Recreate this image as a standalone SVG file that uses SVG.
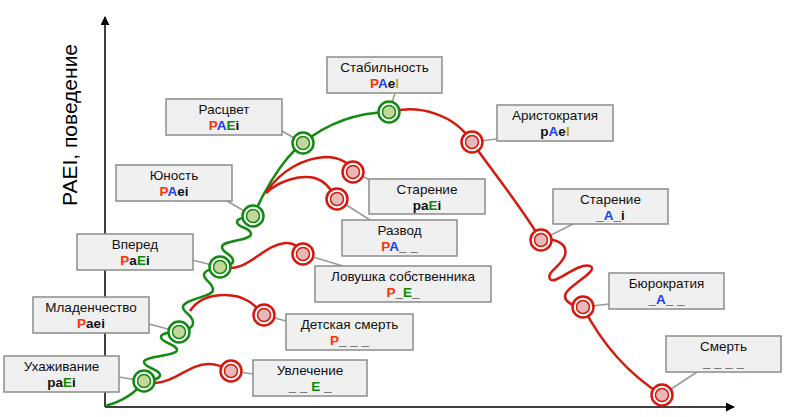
<svg xmlns="http://www.w3.org/2000/svg" width="786" height="417" viewBox="0 0 786 417">
<style>
.box{fill:#f0f0f0;stroke:#8c8c8c;stroke-width:1.5}
.nm{font-family:"Liberation Sans",Arial,sans-serif;font-size:13.5px;fill:#111;text-anchor:middle}
.cd{font-family:"Liberation Sans",Arial,sans-serif;font-size:13.5px;font-weight:bold;fill:#111;text-anchor:middle}
.P{fill:#ff3300}.A{fill:#1a3cff}.E{fill:#0a8a0a}.I{fill:#c8a020}
.lead{stroke:#999;stroke-width:1.5;fill:none}
.g{fill:none;stroke:#138a13;stroke-width:2.5}
.r{fill:none;stroke:#d4190e;stroke-width:2.5}
.go{fill:#fff;stroke:#138a13;stroke-width:2.5}
.gi{fill:#c4d79b;stroke:#138a13;stroke-width:1.5}
.ro{fill:#fff;stroke:#d4190e;stroke-width:2.5}
.ri{fill:#e6b8b7;stroke:#d4190e;stroke-width:1.5}
.ax{stroke:#000;stroke-width:1.5;fill:none}
</style>
<defs>
<marker id="ah" viewBox="0 0 10 10" refX="9" refY="5" markerWidth="6" markerHeight="6" orient="auto" markerUnits="strokeWidth">
<path d="M0,0 L10,5 L0,10 z" fill="#000"/>
</marker>
<g id="gc"><circle r="10.5" class="go"/><circle r="6.5" class="gi"/></g>
<g id="rc"><circle r="10.5" class="ro"/><circle r="6.5" class="ri"/></g>
</defs>

<g id="axes">
<line x1="105" y1="407" x2="105" y2="17" class="ax" marker-end="url(#ah)"/>
<line x1="105" y1="407" x2="734" y2="407" class="ax" marker-end="url(#ah)"/>
<text transform="translate(77,125) rotate(-90)" font-family="Liberation Sans,Arial,sans-serif" font-size="21" text-anchor="middle" fill="#000">PAEI, поведение</text>
</g>

<g id="connectors">
<line class="lead" x1="144" y1="381" x2="119" y2="377"/>
<line class="lead" x1="179" y1="332" x2="149" y2="324"/>
<line class="lead" x1="220" y1="267" x2="192" y2="260"/>
<line class="lead" x1="253" y1="216" x2="227" y2="201"/>
<line class="lead" x1="303" y1="143" x2="282" y2="131"/>
<line class="lead" x1="389" y1="112" x2="395" y2="93"/>
<line class="lead" x1="472" y1="142" x2="497" y2="139"/>
<line class="lead" x1="353" y1="172" x2="370" y2="180"/>
<line class="lead" x1="337" y1="199" x2="370" y2="220"/>
<line class="lead" x1="303" y1="254" x2="343" y2="266"/>
<line class="lead" x1="264" y1="315" x2="286" y2="321"/>
<line class="lead" x1="231" y1="371" x2="253" y2="374"/>
<line class="lead" x1="541" y1="240" x2="573" y2="224"/>
<line class="lead" x1="583" y1="307" x2="609" y2="304"/>
<line class="lead" x1="662" y1="395" x2="697" y2="372"/>

<path class="g" d="M105,406 C120,402 135,394 144,381"/>
<path class="g" d="M144,381 C150,380 160,380 160,375 C160,369 144,368 144,362 C144,356 177,356 177,350 C177,344 161,343 161,337 C161,333 172,332 179,332"/>
<path class="g" d="M179,332 C186,330 194,328 193,322 C192,314 183,313 183,307 C183,299 213,297 213,290 C213,282 204,281 204,275 C204,270 214,268 220,267"/>
<path class="g" d="M220,267 C227,266 234,265 233,260 C232,254 222,253 222,247 C222,240 251,241 251,234 C251,227 237,228 237,222 C237,218 247,217 253,216"/>
<path class="g" d="M253,216 C260,200 280,160 303,143"/>
<path class="g" d="M303,143 Q340,113 389,112"/>

<path class="r" d="M155,383 C175,382 190,364 208,364 C220,364 225,368 231,371"/>
<path class="r" d="M190,311 C197,300 210,295 225,295 C245,295 255,305 264,315"/>
<path class="r" d="M230,268 C250,268 265,245 285,243 C295,242 300,248 303,254"/>
<path class="r" d="M266,193 C280,180 300,175 315,178 C325,181 332,190 337,199"/>
<path class="r" d="M266,193 C280,170 305,158 325,157 C340,157 350,163 353,172"/>
<path class="r" d="M389,112 C420,104 455,115 472,142"/>
<path class="r" d="M472,142 C495,175 520,205 541,240"/>
<path class="r" d="M541,240 C556,238 568,244 565,255 C562,266 546,272 550,279 C554,286 578,262 590,266 C600,270 570,285 566,293 C562,301 572,306 583,307"/>
<path class="r" d="M583,307 C600,340 625,372 662,395"/>
</g>

<g id="n-uhazhivanie"><rect class="box" x="4" y="356" width="115" height="36"/><text class="nm" x="61.5" y="371">Ухаживание</text><text class="cd" x="61.5" y="386.6">pa<tspan class="E">E</tspan>i</text><use href="#gc" x="144" y="381"/></g>
<g id="n-mladenchestvo"><rect class="box" x="33" y="297" width="116" height="36"/><text class="nm" x="91" y="312">Младенчество</text><text class="cd" x="91" y="327.6"><tspan class="P">P</tspan>aei</text><use href="#gc" x="179" y="332"/></g>
<g id="n-vpered"><rect class="box" x="77" y="234" width="116" height="36"/><text class="nm" x="135" y="249">Вперед</text><text class="cd" x="135" y="264.6"><tspan class="P">P</tspan>a<tspan class="E">E</tspan>i</text><use href="#gc" x="220" y="267"/></g>
<g id="n-yunost"><rect class="box" x="116" y="165" width="116" height="36"/><text class="nm" x="174" y="180">Юность</text><text class="cd" x="174" y="195.6"><tspan class="P">P</tspan><tspan class="A">A</tspan>ei</text><use href="#gc" x="253" y="216"/></g>
<g id="n-rascvet"><rect class="box" x="166" y="99" width="116" height="36"/><text class="nm" x="224" y="114">Расцвет</text><text class="cd" x="224" y="129.6"><tspan class="P">P</tspan><tspan class="A">A</tspan><tspan class="E">E</tspan>i</text><use href="#gc" x="303" y="143"/></g>
<g id="n-stabilnost"><rect class="box" x="327" y="57" width="115" height="36"/><text class="nm" x="384.5" y="72">Стабильность</text><text class="cd" x="384.5" y="87.6"><tspan class="P">P</tspan><tspan class="A">A</tspan>e<tspan class="I">I</tspan></text><use href="#gc" x="389" y="112"/></g>
<g id="n-aristokratiya"><rect class="box" x="497" y="105" width="116" height="36"/><text class="nm" x="555" y="120">Аристократия</text><text class="cd" x="555" y="135.6">p<tspan class="A">A</tspan>e<tspan class="I">I</tspan></text><use href="#rc" x="472" y="142"/></g>
<g id="n-starenie1"><rect class="box" x="369" y="179" width="116" height="35"/><text class="nm" x="427" y="194">Старение</text><text class="cd" x="427" y="209.6">pa<tspan class="E">E</tspan>i</text><use href="#rc" x="353" y="172"/></g>
<g id="n-razvod"><rect class="box" x="342" y="220" width="115" height="36"/><text class="nm" x="399.5" y="235">Развод</text><text class="cd" x="399.5" y="250.6"><tspan class="P">P</tspan><tspan class="A">A</tspan>_ _</text><use href="#rc" x="337" y="199"/></g>
<g id="n-lovushka"><rect class="box" x="315" y="266" width="176" height="36"/><text class="nm" x="403" y="281">Ловушка собственника</text><text class="cd" x="403" y="296.6"><tspan class="P">P</tspan>_<tspan class="E">E</tspan>_</text><use href="#rc" x="303" y="254"/></g>
<g id="n-detskaya"><rect class="box" x="286" y="314" width="127" height="36"/><text class="nm" x="349.5" y="329">Детская смерть</text><text class="cd" x="349.5" y="344.6"><tspan class="P">P</tspan>_ _ _</text><use href="#rc" x="264" y="315"/></g>
<g id="n-uvlechenie"><rect class="box" x="253" y="360" width="114" height="36"/><text class="nm" x="310" y="375">Увлечение</text><text class="cd" x="310" y="390.6">_ _ <tspan class="E">E</tspan> _</text><use href="#rc" x="231" y="371"/></g>
<g id="n-starenie2"><rect class="box" x="553" y="189" width="115" height="35"/><text class="nm" x="610.5" y="204">Старение</text><text class="cd" x="610.5" y="219.6">_<tspan class="A">A</tspan>_i</text><use href="#rc" x="541" y="240"/></g>
<g id="n-byurokratiya"><rect class="box" x="609" y="273" width="115" height="36"/><text class="nm" x="666.5" y="288">Бюрократия</text><text class="cd" x="666.5" y="303.6">_<tspan class="A">A</tspan>_ _</text><use href="#rc" x="583" y="307"/></g>
<g id="n-smert"><rect class="box" x="666" y="336" width="115" height="36"/><text class="nm" x="723.5" y="351">Смерть</text><text class="cd" x="723.5" y="366.6">_ _ _ _</text><use href="#rc" x="662" y="395"/></g>
</svg>
